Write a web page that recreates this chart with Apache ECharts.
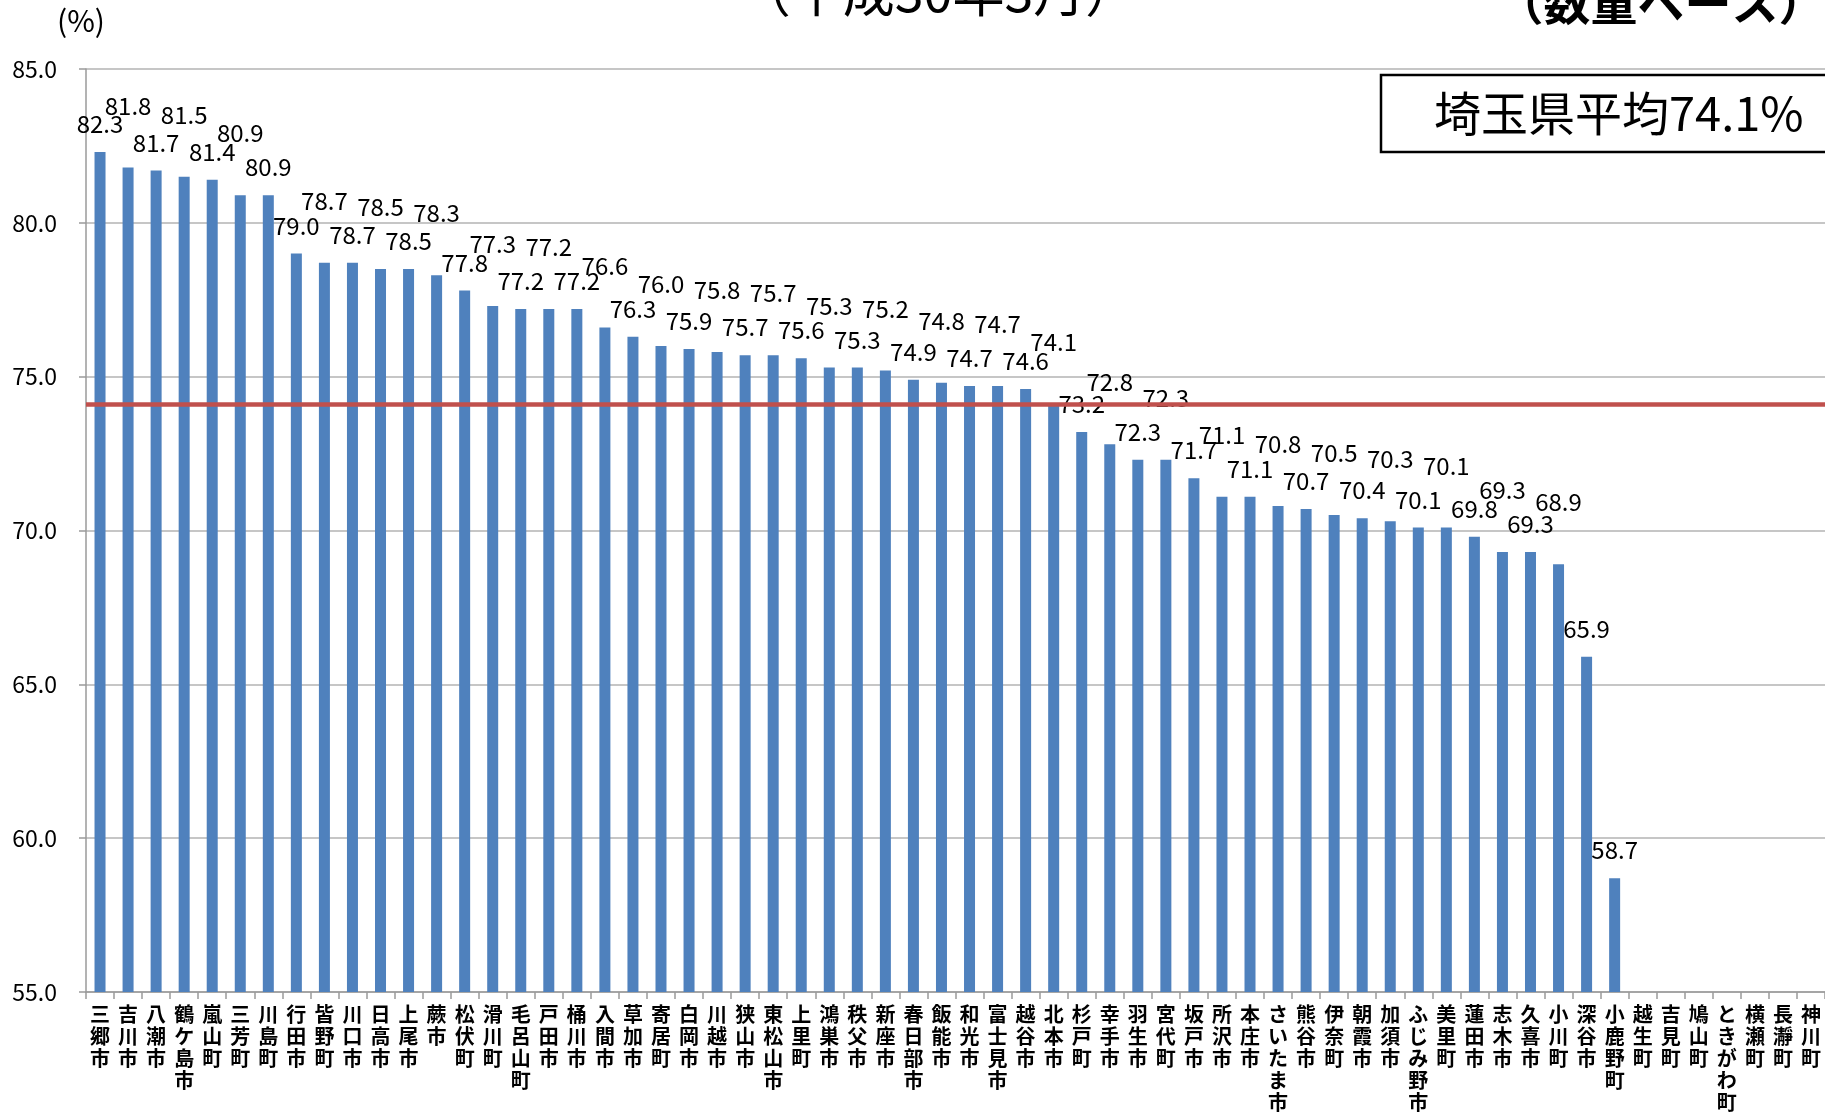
<!DOCTYPE html>
<html>
<head>
<meta charset="utf-8">
<script src="https://cdn.jsdelivr.net/npm/echarts@6/dist/echarts.min.js"></script>
<style>
html,body{margin:0;padding:0;background:#fff;overflow:hidden;}
#chart{width:1825px;height:1113px;}
</style>
</head>
<body>
<div id="chart"></div>
<script>
// ---- data ----
const categories = [
  '三郷市','吉川市','八潮市','鶴ケ島市','嵐山町','三芳町','川島町','行田市','皆野町','川口市',
  '日高市','上尾市','蕨市','松伏町','滑川町','毛呂山町','戸田市','桶川市','入間市','草加市',
  '寄居町','白岡市','川越市','狭山市','東松山市','上里町','鴻巣市','秩父市','新座市','春日部市',
  '飯能市','和光市','富士見市','越谷市','北本市','杉戸町','幸手市','羽生市','宮代町','坂戸市',
  '所沢市','本庄市','さいたま市','熊谷市','伊奈町','朝霞市','加須市','ふじみ野市','美里町','蓮田市',
  '志木市','久喜市','小川町','深谷市','小鹿野町','越生町','吉見町','鳩山町','ときがわ町','横瀬町',
  '長瀞町','神川町'
];
const rates = [
  82.3, 81.8, 81.7, 81.5, 81.4, 80.9, 80.9, 79.0, 78.7, 78.7,
  78.5, 78.5, 78.3, 77.8, 77.3, 77.2, 77.2, 77.2, 76.6, 76.3,
  76.0, 75.9, 75.8, 75.7, 75.7, 75.6, 75.3, 75.3, 75.2, 74.9,
  74.8, 74.7, 74.7, 74.6, 74.1, 73.2, 72.8, 72.3, 72.3, 71.7,
  71.1, 71.1, 70.8, 70.7, 70.5, 70.4, 70.3, 70.1, 70.1, 69.8,
  69.3, 69.3, 68.9, 65.9, 58.7, null, null, null, null, null,
  null, null
];
const prefectureAverage = 74.1;
const yTicks = [55.0, 60.0, 65.0, 70.0, 75.0, 80.0, 85.0];
const averageText = '埼玉県平均74.1%';
const subtitleDate = '（平成30年3月）';
const subtitleBasis = '（数量ベース）';
const unitText = '(%)';

// ---- layout ----
const W = 1825, H = 1113;
const GRID = {left: 86, right: 0, top: 69, bottom: 114};
const Y_MIN = yTicks[0], Y_MAX = yTicks[yTicks.length - 1];
const PX_PER_UNIT = (H - GRID.top - GRID.bottom) / (Y_MAX - Y_MIN);
const LABEL_H = 24, LOW_GAP = 28, HIGH_GAP = 62;

// stagger data labels so neighbouring labels do not collide
let prevY = null;
const barData = rates.map(v => {
  if (v === null) { prevY = null; return {value: null}; }
  const barTop = (Y_MAX - v) * PX_PER_UNIT;
  let gap = LOW_GAP;
  if (prevY !== null && Math.abs((barTop - LOW_GAP) - prevY) < 22) gap = HIGH_GAP;
  prevY = barTop - gap;
  return {value: v, label: {distance: gap - LABEL_H / 2}};
});

const FONT = '"Noto Sans CJK JP", "Noto Sans", sans-serif';
const chart = echarts.init(document.getElementById('chart'), null, {renderer: 'canvas', width: W, height: H});

chart.setOption({
  backgroundColor: '#ffffff',
  animation: false,
  grid: {left: GRID.left, right: GRID.right, top: GRID.top, bottom: GRID.bottom, containLabel: false},
  xAxis: {
    type: 'category',
    data: categories,
    boundaryGap: true,
    axisLine: {show: true, lineStyle: {color: '#9a9a9a', width: 1.5}},
    axisTick: {show: true, length: 7, lineStyle: {color: '#9a9a9a', width: 1.5}},
    axisLabel: {
      interval: 0,
      margin: 11,
      color: '#000',
      fontFamily: FONT,
      fontSize: 20,
      fontWeight: 'bold',
      lineHeight: 22,
      verticalAlign: 'top',
      formatter: s => s.split('').join('\n')
    }
  },
  yAxis: {
    type: 'value',
    min: Y_MIN, max: Y_MAX, interval: 5,
    axisLine: {show: true, lineStyle: {color: '#9a9a9a', width: 1.5}},
    axisTick: {show: true, length: 7, lineStyle: {color: '#9a9a9a', width: 1.5}},
    splitLine: {show: true, lineStyle: {color: '#b3b3b3', width: 1.5}},
    axisLabel: {
      margin: 29,
      color: '#000',
      fontFamily: FONT,
      fontSize: 23,
      formatter: v => v.toFixed(1)
    }
  },
  series: [{
    type: 'bar',
    data: barData,
    barWidth: 11,
    itemStyle: {color: '#4F81BD'},
    label: {
      show: true,
      position: 'top',
      color: '#000',
      fontFamily: FONT,
      fontSize: 24,
      lineHeight: LABEL_H,
      formatter: p => (p.value == null ? '' : p.value.toFixed(1))
    },
    markLine: {
      silent: true,
      symbol: 'none',
      label: {show: false},
      lineStyle: {color: '#C0504D', width: 4.5, type: 'solid'},
      data: [{yAxis: prefectureAverage}]
    }
  }],
  graphic: [
    {type: 'text', x: 81, y: 21, z: 11,
     style: {text: unitText, fill: '#000', font: '30px "Noto Sans CJK JP", sans-serif',
             textAlign: 'center', textVerticalAlign: 'middle'}},
    {type: 'rect', shape: {x: 1381, y: 75, width: 460, height: 77},
     style: {fill: '#fff', stroke: '#000', lineWidth: 2.5}, z: 10},
    {type: 'text', x: 1434, y: 113, z: 11,
     style: {text: averageText, fill: '#000', font: '47px "Noto Sans CJK JP", sans-serif',
             textAlign: 'left', textVerticalAlign: 'middle'}},
    {type: 'text', x: 938, y: -8, z: 11,
     style: {text: subtitleDate, fill: '#000', font: '52px "Noto Sans CJK JP", sans-serif',
             textAlign: 'center', textVerticalAlign: 'middle'}},
    {type: 'text', x: 1661, y: 2, z: 11,
     style: {text: subtitleBasis, fill: '#000', font: 'bold 47px "Noto Sans CJK JP", sans-serif',
             textAlign: 'center', textVerticalAlign: 'middle'}}
  ]
});
</script>
</body>
</html>
